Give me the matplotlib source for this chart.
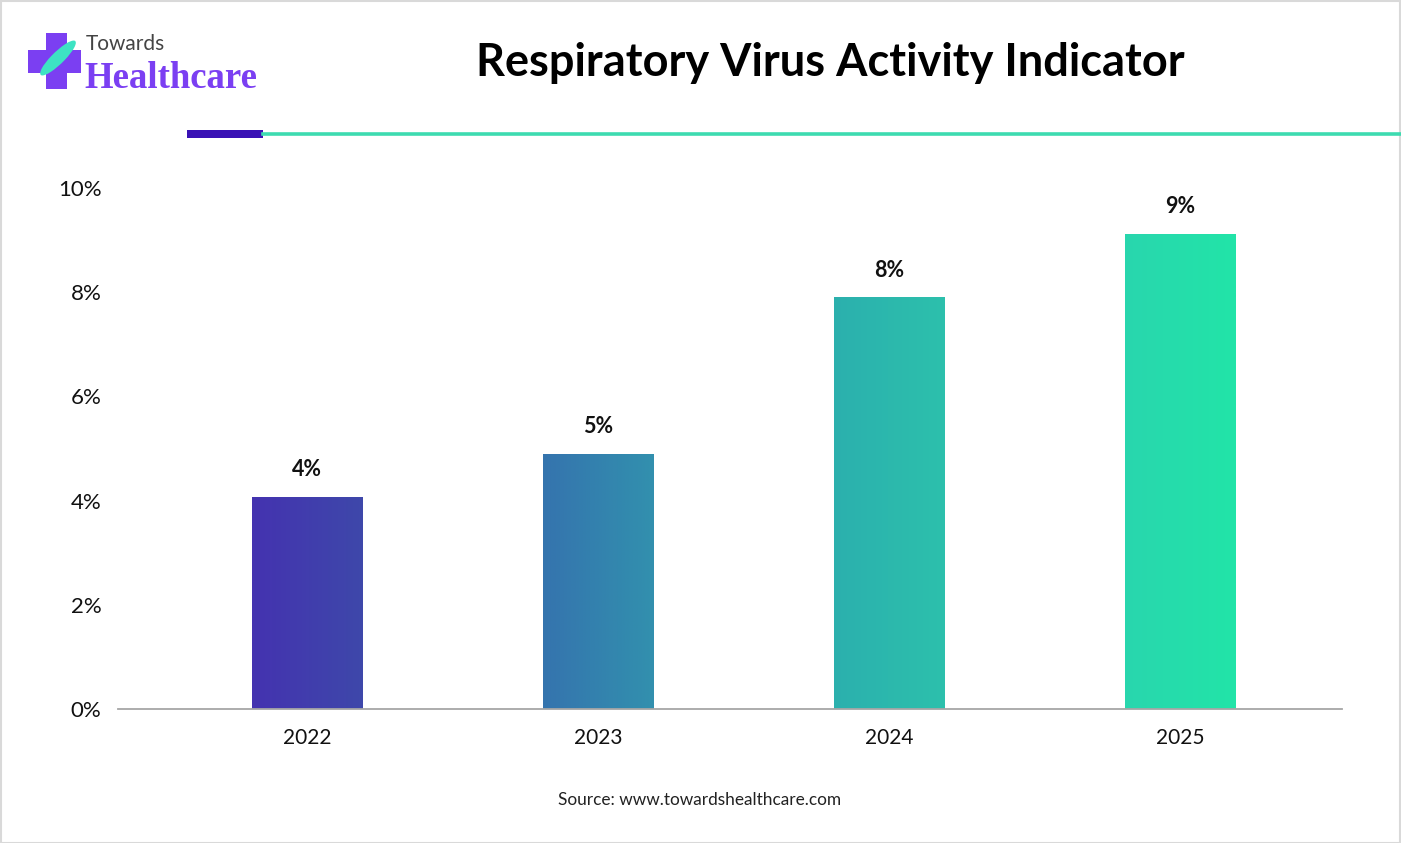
import numpy as np
import matplotlib.pyplot as plt
from matplotlib.colors import LinearSegmentedColormap
from matplotlib.patches import Rectangle, Ellipse
from matplotlib.lines import Line2D

# data
years = ["2022", "2023", "2024", "2025"]
values = [4.07, 4.9, 7.9, 9.12]
labels = ["4%", "5%", "8%", "9%"]
yticks = [0, 2, 4, 6, 8, 10]
ytick_labels = ["0%", "2%", "4%", "6%", "8%", "10%"]

title = "Respiratory Virus Activity Indicator"
source = "Source: www.towardshealthcare.com"

# horizontal gradient across all bars
grad = LinearSegmentedColormap.from_list("grad", [
    (0.00, "#4433B0"), (0.113, "#3E48AA"), (0.295, "#3574AE"),
    (0.408, "#3290AE"), (0.591, "#2BB0AE"), (0.704, "#2DC0AC"),
    (0.887, "#29D6AE"), (1.00, "#22E4A8")])

plt.rcParams['font.family'] = ['Lato', 'DejaVu Sans']

fig = plt.figure(figsize=(14.01, 8.43), dpi=100)
W, H = 1401, 843
ax = fig.add_axes([118 / W, 1 - 709 / H, (1342 - 118) / W, (709 - 188) / H])

bw = 0.381
x = np.arange(len(years))
bars = ax.bar(x, values, width=bw, color="none", edgecolor="none")
gx0, gx1 = x[0] - bw / 2, x[-1] + bw / 2
for b, v in zip(bars, values):
    x0, x1 = b.get_x(), b.get_x() + b.get_width()
    t = np.linspace((x0 - gx0) / (gx1 - gx0), (x1 - gx0) / (gx1 - gx0), 64)
    im = ax.imshow(t[None, :], cmap=grad, vmin=0, vmax=1, aspect="auto",
                   extent=(x0, x1, 0, v), interpolation="bicubic", zorder=2)
    im.set_clip_path(b)

for xi, v, lab in zip(x, values, labels):
    ax.annotate(lab, (xi, v), xytext=(0, 12), textcoords="offset points",
                ha="center", va="bottom", fontsize=15.5, fontweight="bold", color="#111111")

ax.set_xlim(-0.65, 3.557)
ax.set_ylim(0, 10)
ax.set_xticks(x, years)
ax.set_yticks(yticks, ytick_labels)
ax.tick_params(length=0, labelsize=15, colors="#111111")
ax.tick_params(axis="x", pad=14)
ax.tick_params(axis="y", pad=12, labelsize=16)
for s in ["top", "right", "left"]:
    ax.spines[s].set_visible(False)
ax.spines["bottom"].set_color("#A6A6A6")
ax.spines["bottom"].set_linewidth(1.3)

# title and source
fig.text(830 / W, 1 - 63 / H, title, ha="center", va="center",
         fontsize=32.5, fontweight="bold", color="#000000")
fig.text(700 / W, 1 - 800 / H, source, ha="center", va="center",
         fontsize=12.4, color="#222222")

# header lines
fig.add_artist(Line2D([263 / W, 1], [1 - 133.5 / H] * 2, color="#3DDBB0", lw=2.6))
fig.add_artist(Rectangle((187 / W, 1 - 138 / H), 76 / W, 8 / H,
                         transform=fig.transFigure, color="#3A12B5", lw=0))

# logo
purple = "#7B3FF2"
fig.add_artist(Rectangle((46 / W, 1 - 89 / H), 21 / W, 56 / H,
                         transform=fig.transFigure, color=purple, lw=0))
fig.add_artist(Rectangle((28 / W, 1 - 73 / H), 53 / W, 23 / H,
                         transform=fig.transFigure, color=purple, lw=0))
fig.add_artist(Ellipse((58 / W, 1 - 58 / H), 15 / W, 40 / H, angle=-30,
                       transform=fig.transFigure, color="#3DE3C3", lw=0))
fig.text(86 / W, 1 - 44 / H, "Towards", ha="left", va="center",
         fontsize=15, color="#444444", family=["Lato"])
fig.text(84 / W, 1 - 79 / H, "Healthcare", ha="left", va="center",
         fontsize=26.5, fontweight="bold", color=purple, family=["Liberation Serif"])

# light frame
fig.add_artist(Rectangle((0.5 / W, 0.5 / H), 1 - 1.5 / W, 1 - 1.5 / H,
                         transform=fig.transFigure, fill=False,
                         edgecolor="#D9D9D9", lw=1.5))

fig.savefig("out.png", dpi=100)
